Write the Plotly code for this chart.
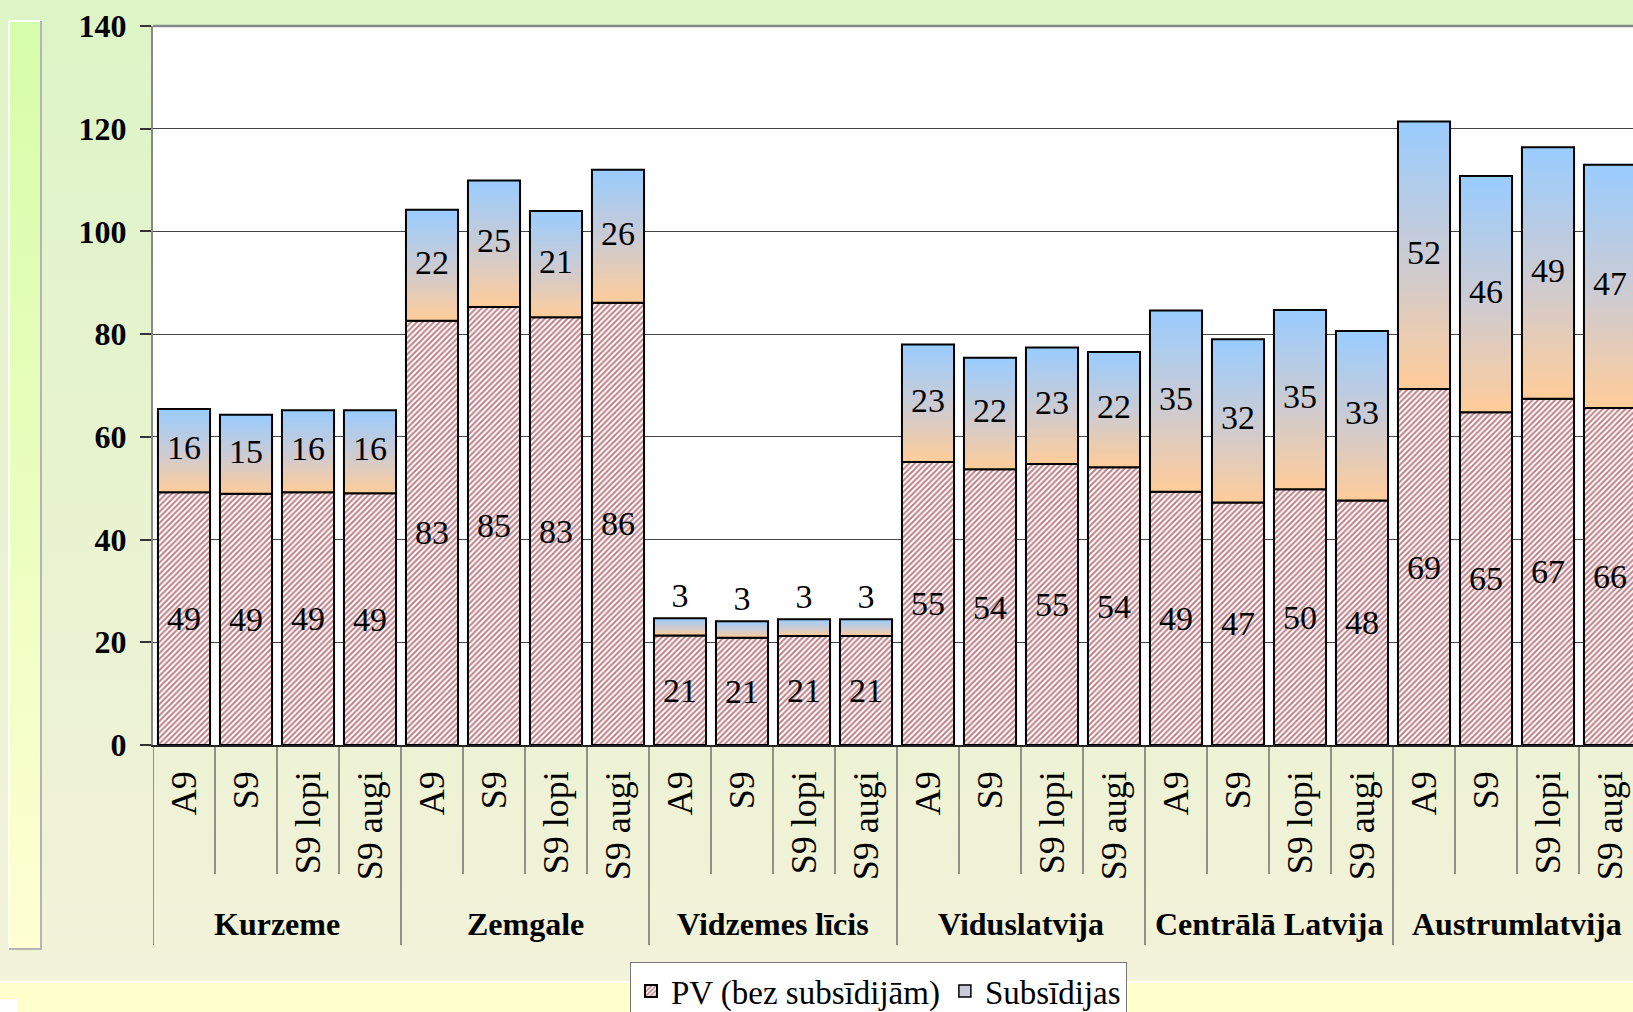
import base64
import plotly.graph_objects as go

# ---------------- data ----------------
groups = ["Kurzeme", "Zemgale", "Vidzemes līcis", "Viduslatvija", "Centrālā Latvija", "Austrumlatvija"]
subcats = ["A9", "S9", "S9 lopi", "S9 augi"]
pv = [49.2, 48.9, 49.2, 49.0,
      82.6, 85.3, 83.3, 86.1,
      21.3, 20.9, 21.2, 21.2,
      55.1, 53.7, 54.7, 54.1,
      49.3, 47.2, 49.8, 47.6,
      69.3, 64.8, 67.4, 65.6]
subs = [16.2, 15.4, 16.0, 16.2,
        21.6, 24.6, 20.7, 25.9,
        3.4, 3.2, 3.3, 3.3,
        22.9, 21.7, 22.7, 22.4,
        35.3, 31.8, 34.9, 33.0,
        52.1, 46.0, 49.0, 47.4]
series_names = ["PV (bez subsīdijām)", "Subsīdijas"]
y_ticks = [0, 20, 40, 60, 80, 100, 120, 140]

# ---------------- geometry ----------------
W, H = 1633, 1012
ML, MT = 153, 26
PW, PH = 1480, 719
MB = H - MT - PH
SLOT = 62.0
n = len(groups) * len(subcats)
xs = list(range(n))
ticktext = [s for g in groups for s in subcats]
BW = 0.84
FONT = "Liberation Serif"
GRAD = [[0, "#ffcc99"], [0.45, "#cfcbd0"], [1, "#99ccff"]]

def py(p):  # pixel y -> paper y
    return (MT + PH - p) / PH

fig = go.Figure()

# PV bars (hatched)
fig.add_trace(go.Bar(
    x=xs, y=pv, width=BW, name=series_names[0],
    marker=dict(color="white",
                pattern=dict(shape="/", fgcolor="#800010", bgcolor="white", size=4, solidity=0.5),
                line=dict(color="black", width=2)),
    text=[str(round(v)) for v in pv], textposition="inside", insidetextanchor="middle",
    textangle=0, constraintext="none",
    textfont=dict(family=FONT, size=34, color="black"),
    hoverinfo="skip",
))

# legend entry for subsidies
fig.add_trace(go.Bar(
    x=[None], y=[None], name=series_names[1],
    marker=dict(color="#c9cbd8", line=dict(color="black", width=1.5)),
    hoverinfo="skip",
))

# Subsidy bars (gradient) stacked on PV
for i, (b, s) in enumerate(zip(pv, subs)):
    fig.add_trace(go.Scatter(
        x=[i - BW / 2, i + BW / 2, i + BW / 2, i - BW / 2, i - BW / 2],
        y=[b, b, b + s, b + s, b],
        mode="lines", fill="toself",
        fillgradient=dict(type="vertical", colorscale=GRAD),
        line=dict(color="black", width=2),
        name=series_names[1], showlegend=False,
        hoverinfo="skip",
    ))

# Subsidy labels
fig.add_trace(go.Scatter(
    x=xs,
    y=[b + s + 0.6 if s < 5 else b + s / 2 for b, s in zip(pv, subs)],
    mode="text",
    text=[str(round(s)) for s in subs],
    textposition=["top center" if s < 5 else "middle center" for s in subs],
    textfont=dict(family=FONT, size=34, color="black"),
    showlegend=False, hoverinfo="skip", cliponaxis=False,
))

# ---------------- background image ----------------
svg = f'''<svg xmlns="http://www.w3.org/2000/svg" width="{W}" height="{H}" viewBox="0 0 {W} {H}" preserveAspectRatio="none">
<defs>
<linearGradient id="bg" x1="0" y1="0" x2="0" y2="1"><stop offset="0" stop-color="#ddf4c6"/><stop offset="1" stop-color="#f3f2da"/></linearGradient>
<linearGradient id="lb" x1="0" y1="0" x2="0" y2="1"><stop offset="0" stop-color="#d5fda9"/><stop offset="1" stop-color="#ffffd2"/></linearGradient>
</defs>
<rect x="0" y="0" width="{W}" height="981" fill="url(#bg)"/>
<rect x="0" y="981" width="{W}" height="2" fill="#ffffff"/>
<rect x="0" y="983" width="{W}" height="{H-983}" fill="#ffffcc"/>
<rect x="0" y="999" width="17" height="13" fill="#ffffff"/>
<rect x="9" y="21" width="33" height="928" fill="url(#lb)"/>
<line x1="9" y1="21" x2="9" y2="949" stroke="#ffffff" stroke-width="2"/>
<line x1="9" y1="21" x2="42" y2="21" stroke="#ffffff" stroke-width="2"/>
<line x1="41" y1="21" x2="41" y2="949" stroke="#b4b4b4" stroke-width="2"/>
<line x1="9" y1="949" x2="42" y2="949" stroke="#b4b4b4" stroke-width="2"/>
<rect x="{ML}" y="{MT}" width="{PW}" height="{PH}" fill="#ffffff"/>
</svg>'''
uri = "data:image/svg+xml;base64," + base64.b64encode(svg.encode("utf-8")).decode("ascii")

shapes = []
# top border of plot area
shapes.append(dict(type="line", xref="paper", yref="paper", x0=0, x1=1, y0=1, y1=1,
                   line=dict(color="#888888", width=2.5)))
# separators below x axis
for k in range(n + 1):
    xb = k - 0.5
    y1 = py(945) if k % len(subcats) == 0 else py(874)
    shapes.append(dict(type="line", xref="x", yref="paper", x0=xb, x1=xb, y0=0, y1=y1,
                       line=dict(color="#333333", width=1)))

annotations = []
for gi, g in enumerate(groups):
    cx = gi * len(subcats) + (len(subcats) - 1) / 2
    annotations.append(dict(xref="x", yref="paper", x=cx, y=py(924), text=g, showarrow=False,
                            xanchor="center", yanchor="middle",
                            font=dict(family=FONT, size=32, color="black", weight="bold")))

fig.update_layout(
    width=W, height=H,
    margin=dict(l=ML, r=W - ML - PW, t=MT, b=MB, autoexpand=False),
    paper_bgcolor="#e8f3d2",
    plot_bgcolor="white",
    barmode="overlay",
    images=[dict(source=uri, xref="paper", yref="paper", x=-ML / PW, y=1 + MT / PH,
                 sizex=W / PW, sizey=H / PH, xanchor="left", yanchor="top",
                 sizing="stretch", layer="below")],
    shapes=shapes,
    annotations=annotations,
    showlegend=True,
    legend=dict(orientation="h", x=(630 - ML) / PW, y=py(962), xanchor="left", yanchor="top",
                bgcolor="white", bordercolor="#777777", borderwidth=1,
                font=dict(family=FONT, size=33, color="black"),
                itemwidth=30, tracegroupgap=0),
    font=dict(family=FONT, color="black"),
)

fig.update_xaxes(
    range=[-0.5, -0.5 + PW / SLOT],
    tickmode="array", tickvals=xs, ticktext=ticktext, tickangle=-90,
    tickfont=dict(family=FONT, size=36, color="black"),
    ticks="", ticklabelstandoff=10,
    showgrid=False, zeroline=False,
    showline=True, linecolor="#222222", linewidth=1.5,
)
fig.update_yaxes(
    range=[0, 140], tickmode="array", tickvals=y_ticks,
    tickfont=dict(family=FONT, size=32, color="black", weight="bold"),
    ticks="outside", ticklen=11, tickcolor="#333333", tickwidth=1.5,
    ticklabelstandoff=7,
    showgrid=True, gridcolor="#444444", gridwidth=1,
    zeroline=False,
    showline=True, linecolor="#888888", linewidth=2,
)

fig.write_html("out.html", config={"displayModeBar": False},
               post_script="document.body.style.margin='0px';")
